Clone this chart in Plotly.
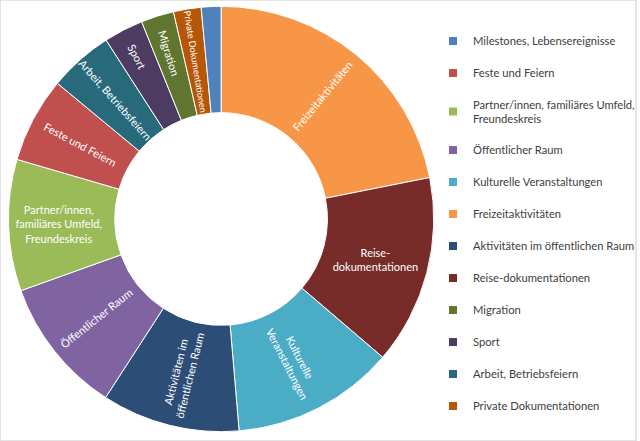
import plotly.graph_objects as go

# Data in source (legend) order
labels = [
    "Milestones, Lebensereignisse",
    "Feste und Feiern",
    "Partner/innen, familiäres Umfeld, Freundeskreis",
    "Öffentlicher Raum",
    "Kulturelle Veranstaltungen",
    "Freizeitaktivitäten",
    "Aktivitäten im öffentlichen Raum",
    "Reise-dokumentationen",
    "Migration",
    "Sport",
    "Arbeit, Betriebsfeiern",
    "Private Dokumentationen",
]
legend_labels = [
    "Milestones, Lebensereignisse",
    "Feste und Feiern",
    "Partner/innen, familiäres Umfeld,<br>Freundeskreis",
    "Öffentlicher Raum",
    "Kulturelle Veranstaltungen",
    "Freizeitaktivitäten",
    "Aktivitäten im öffentlichen Raum",
    "Reise-dokumentationen",
    "Migration",
    "Sport",
    "Arbeit, Betriebsfeiern",
    "Private Dokumentationen",
]
slice_text = [
    "",
    "Feste und Feiern",
    "Partner/innen,<br>familiäres Umfeld,<br>Freundeskreis",
    "Öffentlicher Raum",
    "Kulturelle<br>Veranstaltungen",
    "Freizeitaktivitäten",
    "Aktivitäten im<br>öffentlichen Raum",
    "Reise-<br>dokumentationen",
    "Migration",
    "Sport",
    "Arbeit, Betriebsfeiern",
    "Private Dokumentationen",
]
values = [1.5, 6.5, 10.0, 10.4, 12.4, 21.9, 10.5, 14.4, 2.5, 3.0, 4.9, 2.1]
colors = ["#4F81BD", "#C0504D", "#9BBB59", "#8064A2", "#4BACC6", "#F79646",
          "#2C4D75", "#772C2A", "#5F7530", "#4D3B62", "#276A7C", "#B65708"]
horizontal_labels = ["Partner/innen, familiäres Umfeld, Freundeskreis", "Reise-dokumentationen"]

FONT = "Lato"
W, H = 640, 441
cx, cy, r = 222.5, 219, 214
domain_x = [(cx - r) / W, (cx + r) / W]
domain_y = [(H - cy - r) / H, (H - cy + r) / H]

radial_text = [t if l not in horizontal_labels else "" for l, t in zip(labels, slice_text)]
horiz_text = [t if l in horizontal_labels else "" for l, t in zip(labels, slice_text)]

fig = go.Figure()
fig.add_trace(go.Pie(
    labels=labels, values=values, text=radial_text, textinfo="text",
    sort=True, direction="clockwise", rotation=0, hole=0.5,
    marker=dict(colors=colors, line=dict(color="white", width=1)),
    textposition="inside", insidetextorientation="radial",
    textfont=dict(family=FONT, size=11, color="white"),
    domain=dict(x=domain_x, y=domain_y), showlegend=False, hoverinfo="skip",
))
fig.add_trace(go.Pie(
    labels=labels, values=values, text=horiz_text, textinfo="text",
    sort=True, direction="clockwise", rotation=0, hole=0.5,
    marker=dict(colors=["rgba(0,0,0,0)"] * len(labels), line=dict(width=0)),
    textposition="inside", insidetextorientation="horizontal",
    textfont=dict(family=FONT, size=11, color="white"),
    domain=dict(x=domain_x, y=domain_y), showlegend=False, hoverinfo="skip",
))
for lab, col in zip(legend_labels, colors):
    fig.add_trace(go.Scatter(
        x=[None], y=[None], mode="markers", name=lab, legendgroup=lab,
        marker=dict(symbol="square", size=8, color=col), showlegend=True,
    ))

fig.update_layout(
    width=W, height=H, margin=dict(l=0, r=0, t=0, b=0),
    paper_bgcolor="white", plot_bgcolor="white",
    xaxis=dict(visible=False), yaxis=dict(visible=False),
    legend=dict(x=0.681, y=0.94, xanchor="left", yanchor="top",
                font=dict(family=FONT, size=11.2, color="#404040"),
                tracegroupgap=13, traceorder="grouped", valign="middle",
                bgcolor="rgba(0,0,0,0)"),
    font=dict(family=FONT),
    shapes=[dict(type="rect", xref="paper", yref="paper", x0=0, x1=1, y0=0, y1=1,
                 line=dict(color="#dcdcdc", width=1.5), layer="below")],
)
fig.write_html("out.html", config={"displayModeBar": False},
               post_script="document.body.style.margin='0';document.body.style.overflow='hidden';")
